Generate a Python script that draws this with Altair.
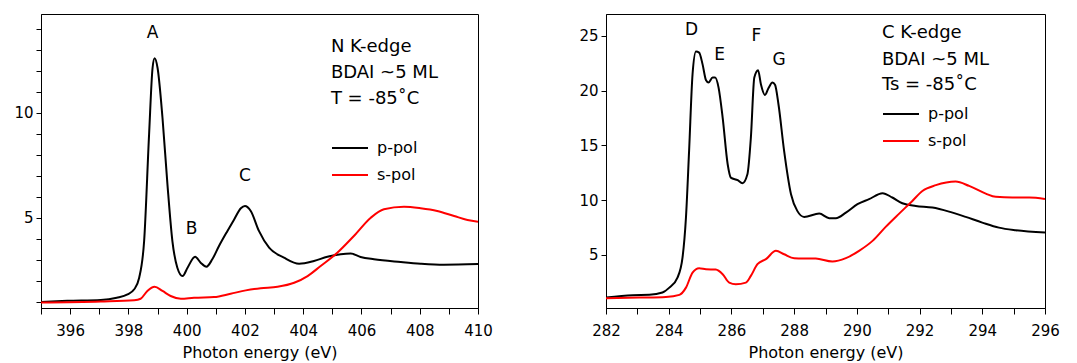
import altair as alt
import pandas as pd

FONT = "DejaVu Sans"

# ---------------- N K-edge (left panel) ----------------
n_p_energy = [395.0, 395.9, 397.05, 397.6, 397.97, 398.2, 398.37, 398.54, 398.71, 398.83, 398.9, 399.0,
              399.17, 399.34, 399.51, 399.68, 399.86, 400.03, 400.29, 400.48, 400.68, 400.88, 401.11,
              401.4, 401.63, 401.86, 402.0, 402.2, 402.48, 402.83, 403.34, 403.86, 404.37, 404.83,
              405.29, 405.63, 405.97, 406.43, 407.35, 408.03, 408.83, 410.0]
n_p_value = [0.99, 1.04, 1.08, 1.19, 1.35, 1.59, 2.14, 3.89, 8.97, 12.14, 12.59, 12.14,
             9.76, 6.59, 3.89, 2.62, 2.22, 2.62, 3.14, 2.86, 2.67, 3.02, 3.65,
             4.37, 4.92, 5.45, 5.56, 5.32, 4.37, 3.57, 3.10, 2.81, 2.94, 3.14,
             3.26, 3.29, 3.13, 3.02, 2.89, 2.81, 2.76, 2.79]
n_s_energy = [395.0, 397.05, 398.2, 398.42, 398.65, 398.9, 399.17, 399.45, 399.8, 400.25, 400.94,
              401.51, 402.03, 402.54, 403.12, 403.69, 404.15, 404.6, 405.17, 405.74, 406.32, 406.77,
              407.46, 408.03, 408.6, 409.18, 409.64, 410.0]
n_s_value = [0.96, 1.01, 1.07, 1.14, 1.51, 1.71, 1.51, 1.27, 1.14, 1.19, 1.22,
             1.38, 1.54, 1.64, 1.71, 1.90, 2.22, 2.70, 3.33, 4.13, 5.0, 5.40,
             5.52, 5.45, 5.32, 5.08, 4.89, 4.81]

n_peak_labels = ["A", "B", "C"]
n_peak_energy = [398.83, 400.17, 402.0]
n_peak_value = [13.78, 4.48, 6.99]

n_info_lines = ["N K-edge", "BDAI ~5 ML", "T = -85˚C"]
n_info_energy = [404.95, 404.95, 404.95]
n_info_value = [13.13, 11.89, 10.65]

# ---------------- C K-edge (right panel) ----------------
c_p_energy = [282.0, 282.85, 283.38, 283.8, 284.02, 284.28, 284.44, 284.55, 284.65, 284.76, 284.87,
              284.97, 285.08, 285.19, 285.27, 285.4, 285.48, 285.59, 285.72, 285.88, 285.98, 286.2,
              286.35, 286.51, 286.62, 286.73, 286.85, 286.94, 287.07, 287.18, 287.31, 287.39, 287.5,
              287.68, 287.9, 288.1, 288.32, 288.8, 289.12, 289.33, 289.65, 290.02, 290.39, 290.82,
              291.13, 291.45, 291.88, 292.41, 292.94, 293.47, 294.0, 294.53, 295.07, 296.0]
c_p_value = [1.10, 1.32, 1.35, 1.56, 2.01, 2.93, 4.75, 8.41, 14.5, 21.5, 23.57,
             23.47, 22.4, 20.95, 20.74, 21.2, 21.2, 20.28, 17.54, 13.28, 12.06, 11.82,
             11.55, 12.37, 15.71, 21.2, 21.87, 20.59, 19.61, 20.22, 20.74, 20.53, 18.76,
             14.5, 10.54, 9.02, 8.47, 8.77, 8.35, 8.35, 8.86, 9.63, 10.09, 10.63,
             10.24, 9.72, 9.47, 9.32, 8.95, 8.47, 7.95, 7.49, 7.25, 7.04]
c_s_energy = [282.0, 283.06, 283.91, 284.34, 284.55, 284.76, 284.97, 285.19, 285.5, 285.72, 285.93,
              286.14, 286.46, 286.62, 286.83, 287.1, 287.42, 287.68, 288.0, 288.69, 289.22, 289.65,
              290.07, 290.5, 290.92, 291.35, 291.77, 292.09, 292.52, 293.15, 293.58, 294.11, 294.43,
              294.96, 295.5, 296.0]
c_s_value = [1.04, 1.10, 1.16, 1.35, 2.01, 3.38, 3.78, 3.69, 3.66, 3.24, 2.47,
             2.32, 2.47, 3.08, 4.15, 4.61, 5.37, 5.06, 4.70, 4.66, 4.39, 4.70,
             5.37, 6.28, 7.56, 8.77, 9.93, 10.84, 11.37, 11.70, 11.30, 10.60, 10.30,
             10.24, 10.24, 10.11]

c_peak_labels = ["D", "E", "F", "G"]
c_peak_energy = [284.73, 285.62, 286.8, 287.52]
c_peak_value = [25.55, 23.24, 25.0, 22.8]

c_info_lines = ["C K-edge", "BDAI ~5 ML", "Ts = -85˚C"]
c_info_energy = [290.8, 290.8, 290.8]
c_info_value = [25.27, 22.81, 20.53]

series_names = ["p-pol", "s-pol"]
series_colors = ["black", "#ff0000"]


def spectra_df(pe, pv, se, sv):
    return pd.DataFrame({
        "energy": pe + se,
        "value": pv + sv,
        "series": [series_names[0]] * len(pe) + [series_names[1]] * len(se),
    })


def panel(df, xdom, ydom, xticks, yticks, ylabels, width, peaks, info, lx, ly):
    ylab_expr = "indexof([" + ",".join(str(v) for v in ylabels) + "], datum.value) >= 0 ? datum.label : ''"
    xlab_expr = "datum.value % 2 == 0 ? datum.label : ''"
    x = alt.X("energy:Q",
              scale=alt.Scale(domain=xdom, nice=False, zero=False),
              axis=alt.Axis(values=xticks, labelExpr=xlab_expr, format="d", title="Photon energy (eV)",
                            grid=False, tickSize=6, labelPadding=9, labelOverlap=False,
                            labelFlush=False, titlePadding=6))
    y = alt.Y("value:Q",
              scale=alt.Scale(domain=ydom, nice=False, zero=False),
              axis=alt.Axis(values=yticks, labelExpr=ylab_expr, format="d", title=None,
                            grid=False, tickSize=5, labelPadding=3, labelOverlap=False))
    lines = alt.Chart(df).mark_line(strokeWidth=2, interpolate="monotone", clip=True).encode(
        x=x, y=y,
        color=alt.Color("series:N",
                        scale=alt.Scale(domain=series_names, range=series_colors),
                        legend=alt.Legend(orient="none", legendX=lx, legendY=ly, title=None,
                                          symbolType="stroke", symbolSize=1296, symbolStrokeWidth=2,
                                          labelFontSize=16, labelOffset=8, rowPadding=-15, padding=0,
                                          labelFont=FONT, labelColor="black")),
    )
    pk = alt.Chart(peaks).mark_text(fontSize=17, font=FONT, color="black",
                                    align="center", baseline="middle").encode(
        x=x, y=y, text="label:N")
    inf = alt.Chart(info).mark_text(fontSize=18, font=FONT, color="black",
                                    align="left", baseline="middle").encode(
        x=x, y=y, text="label:N")
    return alt.layer(lines, pk, inf).properties(width=width, height=294)


left = panel(
    spectra_df(n_p_energy, n_p_value, n_s_energy, n_s_value),
    [395, 410], [0.7, 14.7], list(range(395, 411)), list(range(1, 15)), [5, 10], 437,
    pd.DataFrame({"energy": n_peak_energy, "value": n_peak_value, "label": n_peak_labels}),
    pd.DataFrame({"energy": n_info_energy, "value": n_info_value, "label": n_info_lines}),
    290, 115,
)
right = panel(
    spectra_df(c_p_energy, c_p_value, c_s_energy, c_s_value),
    [282, 296], [0.15, 27], list(range(282, 297)), [5, 10, 15, 20, 25], [5, 10, 15, 20, 25], 439,
    pd.DataFrame({"energy": c_peak_energy, "value": c_peak_value, "label": c_peak_labels}),
    pd.DataFrame({"energy": c_info_energy, "value": c_info_value, "label": c_info_lines}),
    276, 81,
)

chart = alt.hconcat(left, right, spacing=85, background="white").resolve_scale(
    color="independent").resolve_legend(color="independent").configure_view(
    stroke="black", strokeWidth=1).configure_axis(
    labelFont=FONT, titleFont=FONT, labelFontSize=15, titleFontSize=16, titleFontWeight="normal",
    labelColor="black", titleColor="black", domainColor="black", tickColor="black",
    domainWidth=1, tickWidth=1, labelOverlap=False)

chart.save("out.html", embed_options={"renderer": "svg", "actions": False})
